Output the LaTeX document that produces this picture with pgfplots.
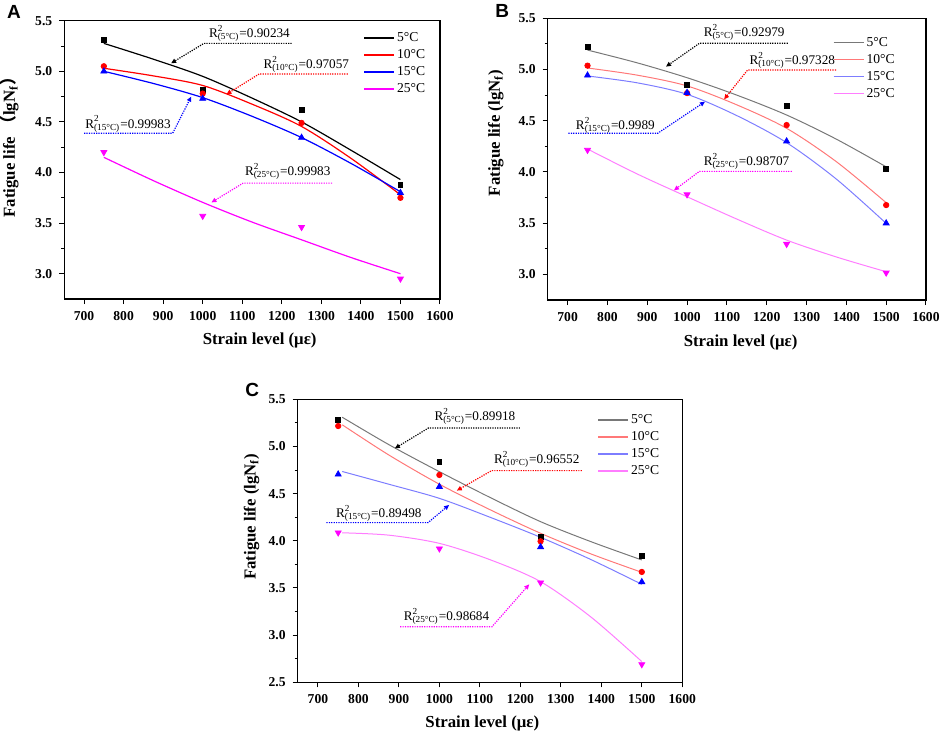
\documentclass[border=0pt]{standalone}
\usepackage{fontspec}
\setmainfont{Liberation Serif}
\newfontfamily\arialfont{Liberation Sans}
\newfontfamily\cjk{Noto Sans CJK SC}
\usepackage{pgfplots}
\pgfplotsset{compat=1.18}
\usetikzlibrary{arrows.meta}

\definecolor{cA}{RGB}{0,0,0}
\definecolor{cB}{RGB}{255,0,0}
\definecolor{cC}{RGB}{0,0,255}
\definecolor{cD}{RGB}{255,0,255}
\definecolor{lA}{RGB}{120,120,120}
\definecolor{lB}{RGB}{255,120,120}
\definecolor{lC}{RGB}{125,125,255}
\definecolor{lD}{RGB}{255,125,255}

\newcommand{\Rsq}[2]{R\rlap{\textsuperscript{2}}\textsubscript{(#1)}=#2}

\tikzset{
  ann/.style={line width=0.6pt, dash pattern=on 0.6pt off 0.6pt, -{Triangle[length=2.5pt,width=2.2pt]}},
  annt/.style={anchor=west, inner sep=0pt, font=\fontsize{6.6}{8}\selectfont},
}

\pgfplotsset{
  panel/.style={
    scale only axis,
    xmin=650, xmax=1600,
    xtick={700,800,...,1600},
    minor y tick num=1,
    tick align=outside,
    tick pos=left,
    axis line style={line width=0.6pt},
    major tick length=2.5pt,
    minor tick length=1.5pt,
    every tick/.style={black, line width=0.5pt},
    /pgf/number format/assume math mode=true,
    tick label style={font=\bfseries\fontsize{6.8}{8}\selectfont},
    yticklabel style={/pgf/number format/fixed,/pgf/number format/fixed zerofill,/pgf/number format/precision=1},
    xticklabel style={/pgf/number format/1000 sep={}},
    label style={font=\bfseries\fontsize{8.4}{10}\selectfont},
    xlabel={Strain level (με)},
    legend cell align=left,
    legend style={draw=none, fill=none, inner sep=0pt, row sep=0pt,
      font=\fontsize{6.8}{8}\selectfont,
      nodes={inner sep=1pt, text height=5pt, text depth=1.5pt}},
    legend image code/.code={\draw[##1, line width=0.9pt] (0pt,0pt) -- (15pt,0pt);},
  },
  mA/.style={only marks, mark=square*, mark size=1.2pt, color=cA},
  mB/.style={only marks, mark=*, mark size=1.35pt, color=cB},
  mC/.style={only marks, mark=triangle*, mark size=1.7pt, color=cC},
  mD/.style={only marks, mark=triangle*, mark size=1.7pt, color=cD, mark options={rotate=180}},
}

\begin{document}
\begin{tikzpicture}
\useasboundingbox (0,0) rectangle (470.5pt,-367.5pt);

% ---------------- Panel A ----------------
\node[anchor=north west, inner sep=0pt, font=\arialfont\bfseries\fontsize{9.5}{10}\selectfont] at (3.3pt,-2.5pt) {A};
\begin{axis}[panel,
  at={(32.15pt,-149.5pt)}, anchor=south west,
  width=187.85pt, height=139.15pt,
  ymin=2.75, ymax=5.5, ytick={3.0,3.5,4.0,4.5,5.0,5.5},
  ylabel={Fatigue life {\cjk\bfseries （}lgN\textsubscript{f}{\cjk\bfseries ）}},
  xlabel style={at={(axis description cs:0.52,-0.15)}, anchor=center},
  ylabel style={at={(axis description cs:-0.146,0.56)}, anchor=center},
  legend style={at={(axis cs:1405,5.42)}, anchor=north west},
]
\addplot[cA, line width=0.6pt, smooth] coordinates {(750,5.276)(875,5.12)(1000,4.95)(1125,4.735)(1250,4.50)(1375,4.22)(1500,3.93)};
\addlegendentry{5°C}
\addplot[cB, line width=0.6pt, smooth] coordinates {(750,5.03)(875,4.955)(1000,4.86)(1125,4.675)(1250,4.455)(1375,4.14)(1500,3.78)};
\addlegendentry{10°C}
\addplot[cC, line width=0.6pt, smooth] coordinates {(750,5.0)(875,4.88)(1000,4.74)(1125,4.555)(1250,4.345)(1375,4.09)(1500,3.81)};
\addlegendentry{15°C}
\addplot[cD, line width=0.6pt, smooth] coordinates {(750,4.15)(875,3.92)(1000,3.705)(1125,3.51)(1250,3.335)(1375,3.16)(1500,3.0)};
\addlegendentry{25°C}
\addplot[mA, forget plot] coordinates {(750,5.31)(1000,4.82)(1250,4.62)(1500,3.88)};
\addplot[mB, forget plot] coordinates {(750,5.05)(1000,4.78)(1250,4.49)(1500,3.75)};
\addplot[mC, forget plot] coordinates {(750,5.00)(1000,4.73)(1250,4.345)(1500,3.80)};
\addplot[mD, forget plot] coordinates {(750,4.20)(1000,3.57)(1250,3.46)(1500,2.95)};
% annotations
\node[annt] at (axis cs:1015,5.375) {\Rsq{5°C}{0.90234}};
\draw[ann, cA] (axis cs:1225,5.276) -- (axis cs:1003,5.276) -- (axis cs:920,5.079);
\node[annt] at (axis cs:1153,5.07) {\Rsq{10°C}{0.97057}};
\draw[ann, cB] (axis cs:1367,4.974) -- (axis cs:1143,4.974) -- (axis cs:1060,4.773);
\node[annt] at (axis cs:702,4.48) {\Rsq{15°C}{0.99983}};
\draw[ann, cC] (axis cs:700,4.388) -- (axis cs:924,4.388) -- (axis cs:971,4.75);
\node[annt] at (axis cs:1106,4.01) {\Rsq{25°C}{0.99983}};
\draw[ann, cD] (axis cs:1327,3.895) -- (axis cs:1102,3.895) -- (axis cs:1022,3.704);
\end{axis}

% ---------------- Panel B ----------------
\node[anchor=north west, inner sep=0pt, font=\arialfont\bfseries\fontsize{9.5}{10}\selectfont] at (247.5pt,-2pt) {B};
\begin{axis}[panel,
  at={(273.85pt,-150pt)}, anchor=south west,
  width=189.15pt, height=140.85pt,
  ymin=2.75, ymax=5.5, ytick={3.0,3.5,4.0,4.5,5.0,5.5},
  ylabel={Fatigue life (lgN\textsubscript{f})},
  xlabel style={at={(axis description cs:0.51,-0.149)}, anchor=center},
  ylabel style={at={(axis description cs:-0.137,0.593)}, anchor=center},
  legend style={at={(axis cs:1365,5.35)}, anchor=north west},
]
\addplot[lA, line width=0.5pt, smooth] coordinates {(750,5.19)(875,5.065)(1000,4.92)(1125,4.75)(1250,4.556)(1375,4.32)(1500,4.05)};
\addlegendentry{5°C}
\addplot[lB, line width=0.5pt, smooth] coordinates {(750,5.015)(875,4.945)(1000,4.84)(1125,4.655)(1250,4.426)(1375,4.10)(1500,3.70)};
\addlegendentry{10°C}
\addplot[lC, line width=0.5pt, smooth] coordinates {(750,4.937)(875,4.87)(1000,4.758)(1125,4.55)(1250,4.286)(1375,3.93)(1500,3.498)};
\addlegendentry{15°C}
\addplot[lD, line width=0.5pt, smooth] coordinates {(750,4.224)(875,3.98)(1000,3.758)(1125,3.54)(1250,3.335)(1375,3.17)(1500,3.026)};
\addlegendentry{25°C}
\addplot[mA, forget plot] coordinates {(750,5.217)(1000,4.85)(1250,4.647)(1500,4.03)};
\addplot[mB, forget plot] coordinates {(750,5.038)(1000,4.77)(1250,4.458)(1500,3.677)};
\addplot[mC, forget plot] coordinates {(750,4.943)(1000,4.774)(1250,4.30)(1500,3.50)};
\addplot[mD, forget plot] coordinates {(750,4.214)(1000,3.78)(1250,3.296)(1500,3.016)};
\node[annt] at (axis cs:1041,5.363) {\Rsq{5°C}{0.92979}};
\draw[ann, cA] (axis cs:1253,5.256) -- (axis cs:1031,5.256) -- (axis cs:947,5.028);
\node[annt] at (axis cs:1156,5.093) {\Rsq{10°C}{0.97328}};
\draw[ann, cB] (axis cs:1374,4.995) -- (axis cs:1152,4.995) -- (axis cs:1093,4.709);
\node[annt] at (axis cs:720,4.458) {\Rsq{15°C}{0.9989}};
\draw[ann, cC] (axis cs:702,4.377) -- (axis cs:926,4.377) -- (axis cs:1045,4.686);
\node[annt] at (axis cs:1041,4.10) {\Rsq{25°C}{0.98707}};
\draw[ann, cD] (axis cs:1263,4.006) -- (axis cs:1031,4.006) -- (axis cs:967,3.82);
\end{axis}

% ---------------- Panel C ----------------
\node[anchor=north west, inner sep=0pt, font=\arialfont\bfseries\fontsize{9.5}{10}\selectfont] at (122.5pt,-191.3pt) {C};
\begin{axis}[panel,
  at={(148.85pt,-341.15pt)}, anchor=south west,
  width=192.3pt, height=141.5pt,
  ymin=2.5, ymax=5.5, ytick={2.5,3.0,3.5,4.0,4.5,5.0,5.5},
  ylabel={Fatigue life (lgN\textsubscript{f})},
  xlabel style={at={(axis description cs:0.48,-0.145)}, anchor=center},
  ylabel style={at={(axis description cs:-0.12,0.585)}, anchor=center},
  legend style={at={(axis cs:1389,5.375)}, anchor=north west},
]
\addplot[lA, line width=0.5pt, smooth] coordinates {(760,5.31)(875,5.02)(1000,4.733)(1125,4.46)(1250,4.203)(1375,3.99)(1500,3.797)};
\addlegendentry{5°C}
\addplot[lB, line width=0.5pt, smooth] coordinates {(760,5.23)(875,4.91)(1000,4.60)(1125,4.33)(1250,4.08)(1375,3.86)(1500,3.666)};
\addlegendentry{10°C}
\addplot[lC, line width=0.5pt, smooth] coordinates {(760,4.735)(875,4.60)(1000,4.45)(1125,4.25)(1250,4.037)(1375,3.80)(1500,3.539)};
\addlegendentry{15°C}
\addplot[lD, line width=0.5pt, smooth] coordinates {(760,4.085)(875,4.06)(1000,3.973)(1125,3.80)(1250,3.567)(1375,3.19)(1500,2.72)};
\addlegendentry{25°C}
\addplot[mA, forget plot] coordinates {(750,5.28)(1000,4.839)(1250,4.044)(1500,3.843)};
\addplot[mB, forget plot] coordinates {(750,5.217)(1000,4.698)(1250,3.995)(1500,3.67)};
\addplot[mC, forget plot] coordinates {(750,4.705)(1000,4.574)(1250,3.935)(1500,3.564)};
\addplot[mD, forget plot] coordinates {(750,4.087)(1000,3.917)(1250,3.557)(1500,2.69)};
\node[annt] at (axis cs:987,5.323) {\Rsq{5°C}{0.89918}};
\draw[ann, cA] (axis cs:1199,5.196) -- (axis cs:973,5.196) -- (axis cs:890,4.98);
\node[annt] at (axis cs:1134,4.864) {\Rsq{10°C}{0.96552}};
\draw[ann, cB] (axis cs:1352,4.744) -- (axis cs:1129,4.744) -- (axis cs:1043,4.532);
\node[annt] at (axis cs:744,4.292) {\Rsq{15°C}{0.89498}};
\draw[ann, cC] (axis cs:721,4.193) -- (axis cs:972,4.193) -- (axis cs:1024,4.38);
\node[annt] at (axis cs:911,3.196) {\Rsq{25°C}{0.98684}};
\draw[ann, cD] (axis cs:903,3.09) -- (axis cs:1130,3.09) -- (axis cs:1222,3.539);
\end{axis}
\end{tikzpicture}
\end{document}
